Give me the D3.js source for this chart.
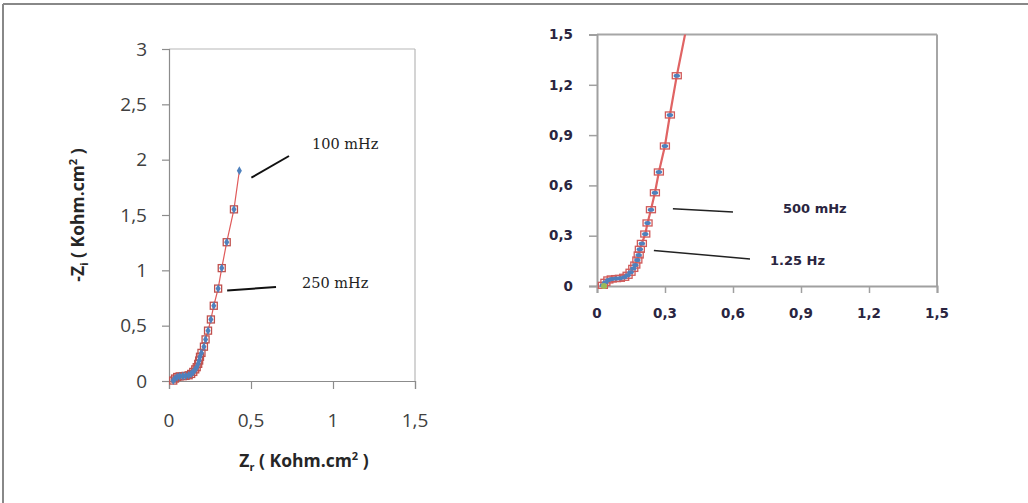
<!DOCTYPE html>
<html>
<head>
<meta charset="utf-8">
<script src="https://cdn.jsdelivr.net/npm/d3@7"></script>
<style>
  html, body { margin: 0; padding: 0; background: #fff; }
  svg { display: block; }
</style>
</head>
<body>
<svg id="chart" width="1028" height="503"></svg>
<script>
// ---- data (Nyquist plot, Kohm.cm2) ----
const zr = [0.026, 0.037, 0.05, 0.065, 0.084, 0.101, 0.12, 0.135, 0.148, 0.16, 0.169, 0.178, 0.184, 0.189, 0.198, 0.213, 0.223, 0.238, 0.2555, 0.273, 0.2996, 0.3216, 0.352, 0.396, 0.429];
const zi = [0.004, 0.022, 0.036, 0.042, 0.044, 0.046, 0.052, 0.064, 0.082, 0.105, 0.125, 0.155, 0.185, 0.219, 0.254, 0.31, 0.376, 0.455, 0.556, 0.68, 0.835, 1.02, 1.254, 1.551, 1.90];
const startZr = [0.031];
const startZi = [0.0];

const leftXTicks = [0, 0.5, 1, 1.5];
const leftYTicks = [0, 0.5, 1, 1.5, 2, 2.5, 3];
const rightTicks = [0, 0.3, 0.6, 0.9, 1.2, 1.5];

const leftNotes = [
  { text: "100 mHz", zr: 0.429, zi: 1.90 },
  { text: "250 mHz", zr: 0.2996, zi: 0.835 }
];
const rightNotes = [
  { text: "500 mHz", zr: 0.2555, zi: 0.556 },
  { text: "1.25 Hz", zr: 0.198, zi: 0.254 }
];

const fmt = d => String(d).replace('.', ',');
const pts = zr.map((x, i) => ({ x: x, y: zi[i] }));

const svg = d3.select("#chart");
svg.append("rect").attr("width", 1028).attr("height", 503).attr("fill", "#fff");
// outer border (top + left)
svg.append("line").attr("x1", 3).attr("x2", 1028).attr("y1", 4).attr("y2", 4).attr("stroke", "#888").attr("stroke-width", 2);
svg.append("line").attr("x1", 3).attr("x2", 3).attr("y1", 4).attr("y2", 503).attr("stroke", "#888").attr("stroke-width", 2);

// ================= LEFT CHART =================
const lx = d3.scaleLinear().domain([0, 1.5]).range([169, 415]);
const ly = d3.scaleLinear().domain([0, 3]).range([381, 49]);
const L = svg.append("g");

// frame top + right
L.append("line").attr("x1", lx(0)).attr("x2", lx(1.5)).attr("y1", ly(3)).attr("y2", ly(3)).attr("stroke", "#b8b8b8").attr("stroke-width", 1.2);
L.append("line").attr("x1", lx(1.5)).attr("x2", lx(1.5)).attr("y1", ly(3)).attr("y2", ly(0)).attr("stroke", "#b8b8b8").attr("stroke-width", 1.2);

const lxa = L.append("g").attr("transform", `translate(0,${ly(0)})`)
  .call(d3.axisBottom(lx).tickValues(leftXTicks).tickSize(8).tickFormat(""));
const lya = L.append("g").attr("transform", `translate(${lx(0)},0)`)
  .call(d3.axisLeft(ly).tickValues(leftYTicks).tickSize(7).tickFormat(""));
[lxa, lya].forEach(a => {
  a.selectAll("path").attr("stroke", "#8c8c8c").attr("stroke-width", 1.2);
  a.selectAll("line").attr("stroke", "#8c8c8c").attr("stroke-width", 1.2);
});

L.selectAll(".lxl").data(leftXTicks).enter().append("text")
  .attr("x", d => lx(d)).attr("y", 420).attr("dy", "0.35em")
  .attr("text-anchor", "middle").attr("font-family", "'Open Sans', sans-serif")
  .attr("font-size", 19).attr("fill", "#404040").text(fmt);
L.selectAll(".lyl").data(leftYTicks).enter().append("text")
  .attr("x", 147).attr("y", d => ly(d)).attr("dy", "0.35em")
  .attr("text-anchor", "end").attr("font-family", "'Open Sans', sans-serif")
  .attr("font-size", 19).attr("fill", "#404040").text(fmt);

// axis titles
const xt = L.append("text").attr("x", 304).attr("y", 467).attr("text-anchor", "middle")
  .attr("font-family", "'Open Sans', sans-serif").attr("font-weight", "bold").attr("font-size", 17.5).attr("fill", "#262626");
xt.append("tspan").text("Z");
xt.append("tspan").attr("font-size", 11).attr("dy", 4).text("r");
xt.append("tspan").attr("dy", -4).text(" ( Kohm.cm");
xt.append("tspan").attr("font-size", 11).attr("dy", -7).text("2");
xt.append("tspan").attr("dy", 7).text(" )");

const yt = L.append("text").attr("transform", "translate(84,215) rotate(-90)").attr("text-anchor", "middle")
  .attr("font-family", "'Open Sans', sans-serif").attr("font-weight", "bold").attr("font-size", 17.5).attr("fill", "#262626");
yt.append("tspan").text("-Z");
yt.append("tspan").attr("font-size", 11).attr("dy", 4).text("i");
yt.append("tspan").attr("dy", -4).text(" ( Kohm.cm");
yt.append("tspan").attr("font-size", 11).attr("dy", -7).text("2");
yt.append("tspan").attr("dy", 7).text(" )");

// data
const lline = d3.line().x(d => lx(d.x)).y(d => ly(d.y));
L.append("path").datum(pts).attr("d", lline).attr("fill", "none").attr("stroke", "#e05a5a").attr("stroke-width", 1.2);
L.selectAll(".lsq").data(pts.slice(0, pts.length - 1)).enter().append("rect")
  .attr("x", d => lx(d.x) - 3.5).attr("y", d => ly(d.y) - 3.5).attr("width", 7).attr("height", 7)
  .attr("fill", "none").attr("stroke", "#c0504d").attr("stroke-width", 1.3);
L.selectAll(".ldm").data(pts).enter().append("path")
  .attr("d", d3.symbol().type(d3.symbolDiamond).size(22)())
  .attr("transform", d => `translate(${lx(d.x)},${ly(d.y)})`).attr("fill", "#4f81bd");

// annotations
function noteLine(g, x1, y1, x2, y2, w, c) {
  g.append("line").attr("x1", x1).attr("y1", y1).attr("x2", x2).attr("y2", y2).attr("stroke", c).attr("stroke-width", w);
}
noteLine(L, lx(leftNotes[0].zr) + 12, ly(leftNotes[0].zi) + 7, 289, 156, 2, "#111");
noteLine(L, lx(leftNotes[1].zr) + 9, ly(leftNotes[1].zi) + 2, 276, 287, 2, "#111");
L.append("text").attr("x", 312).attr("y", 149).attr("font-family", "'DejaVu Serif', serif").attr("font-size", 14.5).attr("fill", "#222").text(leftNotes[0].text);
L.append("text").attr("x", 302).attr("y", 288).attr("font-family", "'DejaVu Serif', serif").attr("font-size", 14.5).attr("fill", "#222").text(leftNotes[1].text);

// ================= RIGHT CHART =================
const rx = d3.scaleLinear().domain([0, 1.5]).range([597, 937]);
const ry = d3.scaleLinear().domain([0, 1.5]).range([286, 34.5]);
const R = svg.append("g");

R.append("line").attr("x1", rx(0)).attr("x2", rx(1.5)).attr("y1", ry(1.5)).attr("y2", ry(1.5)).attr("stroke", "#a6a6a6").attr("stroke-width", 2);
R.append("line").attr("x1", rx(1.5)).attr("x2", rx(1.5)).attr("y1", ry(1.5)).attr("y2", ry(0)).attr("stroke", "#a6a6a6").attr("stroke-width", 2);

const rxa = R.append("g").attr("transform", `translate(0,${ry(0)})`)
  .call(d3.axisBottom(rx).tickValues(rightTicks).tickSize(7).tickFormat(""));
const rya = R.append("g").attr("transform", `translate(${rx(0)},0)`)
  .call(d3.axisLeft(ry).tickValues(rightTicks).tickSize(8).tickFormat(""));
[rxa, rya].forEach(a => {
  a.selectAll("path").attr("stroke", "#a0a0a0").attr("stroke-width", 2);
  a.selectAll("line").attr("stroke", "#a0a0a0").attr("stroke-width", 1.5);
});

R.selectAll(".rxl").data(rightTicks).enter().append("text")
  .attr("x", d => rx(d)).attr("y", 313).attr("dy", "0.35em")
  .attr("text-anchor", "middle").attr("font-family", "'DejaVu Sans', sans-serif").attr("font-weight", "bold")
  .attr("font-size", 13.5).attr("fill", "#2a2540").text(fmt);
R.selectAll(".ryl").data(rightTicks).enter().append("text")
  .attr("x", 573).attr("y", d => ry(d)).attr("dy", "0.35em")
  .attr("text-anchor", "end").attr("font-family", "'DejaVu Sans', sans-serif").attr("font-weight", "bold")
  .attr("font-size", 13.5).attr("fill", "#2a2540").text(fmt);

svg.append("defs").append("clipPath").attr("id", "rclip").append("rect")
  .attr("x", rx(0)).attr("y", ry(1.5)).attr("width", rx(1.5) - rx(0)).attr("height", ry(0) - ry(1.5) + 4);
const RD = R.append("g").attr("clip-path", "url(#rclip)");
const rline = d3.line().x(d => rx(d.x)).y(d => ry(d.y));
RD.append("path").datum(pts).attr("d", rline).attr("fill", "none").attr("stroke", "#e06464").attr("stroke-width", 2.2);
RD.selectAll(".rsq").data(pts).enter().append("rect")
  .attr("x", d => rx(d.x) - 4.5).attr("y", d => ry(d.y) - 3).attr("width", 9).attr("height", 6)
  .attr("fill", "none").attr("stroke", "#d05a5a").attr("stroke-width", 1.3);
RD.selectAll(".rdm").data(pts).enter().append("ellipse")
  .attr("cx", d => rx(d.x)).attr("cy", d => ry(d.y)).attr("rx", 3.2).attr("ry", 2)
  .attr("fill", "#4f81bd");
RD.selectAll(".rst").data(startZr.map((x, i) => ({ x: x, y: startZi[i] }))).enter().append("circle")
  .attr("cx", d => rx(d.x)).attr("cy", d => ry(d.y)).attr("r", 3).attr("fill", "#9bbb59");

noteLine(R, rx(rightNotes[0].zr) + 18, ry(rightNotes[0].zi) + 16, 733, 212, 1.5, "#222");
noteLine(R, rx(rightNotes[1].zr) + 12, ry(rightNotes[1].zi) + 7, 750, 259, 1.5, "#222");
R.append("text").attr("x", 783).attr("y", 213).attr("font-family", "'DejaVu Sans', sans-serif").attr("font-weight", "bold")
  .attr("font-size", 13).attr("fill", "#2a2540").text(rightNotes[0].text);
R.append("text").attr("x", 770).attr("y", 265).attr("font-family", "'DejaVu Sans', sans-serif").attr("font-weight", "bold")
  .attr("font-size", 13).attr("fill", "#2a2540").text(rightNotes[1].text);
</script>
</body>
</html>
